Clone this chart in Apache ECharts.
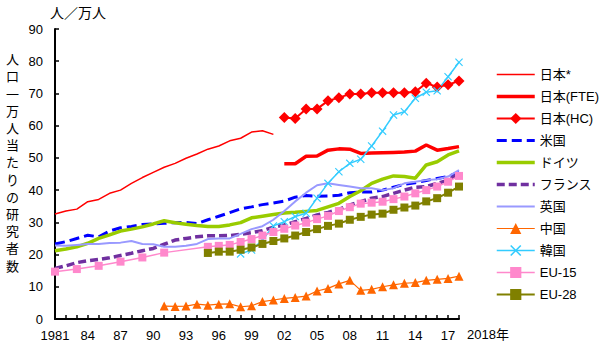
<!DOCTYPE html>
<html>
<head>
<meta charset="utf-8">
<script src="https://cdn.jsdelivr.net/npm/echarts@6/dist/echarts.min.js"></script>
<style>
html,body{margin:0;padding:0;background:#fff;}
#chart{width:600px;height:349px;}
</style>
</head>
<body>
<div id="chart"></div>
<script>
const years = [1981,1982,1983,1984,1985,1986,1987,1988,1989,1990,
  1991,1992,1993,1994,1995,1996,1997,1998,1999,2000,
  2001,2002,2003,2004,2005,2006,2007,2008,2009,2010,
  2011,2012,2013,2014,2015,2016,2017,2018];

const yTicks = [0,10,20,30,40,50,60,70,80,90];

// values per year 1981..2018 (null = no data)
const japanStar = [32.6,33.5,34.1,36.4,37.1,39.0,40.0,42.1,43.9,45.5,
  47.1,48.3,49.9,51.2,52.7,53.7,55.3,56.1,58.0,58.4,
  57.3,null,null,null,null,null,null,null,null,null,
  null,null,null,null,null,null,null,null];
const japanFTE = [null,null,null,null,null,null,null,null,null,null,
  null,null,null,null,null,null,null,null,null,null,
  null,48.2,48.2,50.5,50.6,52.4,52.8,52.7,51.4,51.5,
  51.6,51.7,51.8,52.1,54.0,52.4,52.9,53.5];
const japanHC = [null,null,null,null,null,null,null,null,null,null,
  null,null,null,null,null,null,null,null,null,null,
  null,62.5,62.2,65.2,65.2,67.7,68.7,69.8,69.8,70.2,
  70.2,70.2,70.2,70.5,73.2,72.0,72.7,73.9];
const usa = [23.3,24.0,25.0,26.0,25.5,27.3,28.3,28.7,29.3,29.5,
  29.7,29.9,30.0,29.6,30.8,31.9,33.0,34.2,34.8,35.5,
  36.0,36.6,37.8,38.3,38.1,38.2,38.4,39.2,39.4,39.4,
  40.0,40.9,41.8,42.3,43.0,43.6,44.2,45.6];
const germany = [21.2,21.7,22.4,23.5,25.0,26.1,27.3,27.9,28.6,29.5,
  30.5,29.9,29.4,29.0,28.7,28.7,29.2,29.9,31.4,31.9,
  32.4,32.9,33.1,33.4,33.7,34.8,35.9,38.0,39.8,42.1,
  43.4,44.4,44.2,43.7,47.8,48.8,50.9,52.2];
const france = [15.7,16.5,17.5,18.1,18.5,19.0,19.7,20.4,21.2,21.9,
  23.2,24.5,25.0,25.5,25.8,25.8,25.9,26.3,26.8,27.4,
  28.5,29.2,30.2,31.2,32.3,33.1,34.0,35.4,36.4,37.5,
  38.0,39.0,40.0,40.9,41.1,42.1,43.1,45.2];
const uk = [22.8,22.7,23.0,23.3,23.3,23.6,23.7,24.2,23.3,23.2,
  22.4,22.4,22.7,23.3,24.8,25.0,25.0,26.4,27.9,28.8,
  30.8,33.5,36.5,39.2,41.5,42.1,41.6,41.1,40.6,40.6,
  40.0,40.6,42.1,42.6,43.1,43.4,44.2,46.2];
const china = [null,null,null,null,null,null,null,null,null,null,
  4.0,3.9,4.0,4.6,4.3,4.6,4.7,3.8,4.1,5.4,
  5.9,6.4,6.7,7.1,8.7,9.5,10.9,12.0,8.9,9.2,
  10.0,10.6,11.1,11.3,12.0,12.3,12.6,13.3];
const korea = [null,null,null,null,null,null,null,null,null,null,
  null,null,null,null,null,null,null,20.2,21.4,24.5,
  28.9,30.2,31.8,32.8,37.5,42.1,45.7,48.3,49.6,53.7,
  58.3,63.3,64.3,68.5,70.4,70.8,75.2,79.7];
const eu15 = [14.7,null,15.5,null,16.5,null,17.8,null,19.1,null,
  20.6,null,null,null,22.4,22.7,23.0,23.9,24.8,25.9,
  27.0,28.0,29.0,29.9,31.0,32.0,33.5,34.7,35.8,36.1,
  36.4,37.2,38.0,39.0,40.0,41.1,42.6,44.4];
const eu28 = [null,null,null,null,null,null,null,null,null,null,
  null,null,null,null,20.5,20.9,20.9,21.5,22.2,23.3,
  24.2,25.0,25.9,27.0,27.9,28.9,29.6,30.8,31.7,32.4,
  32.7,33.9,34.6,35.2,36.5,37.5,39.2,41.1];

const FONT = "'Liberation Sans', 'Noto Sans CJK JP', sans-serif";
const crossPath = 'path://M0,1L1,0L5,4L9,0L10,1L6,5L10,9L9,10L5,6L1,10L0,9L4,5Z';

function line(name, data, color, width, type, symbol, symbolSize) {
  return {
    name: name, type: 'line', data: data,
    connectNulls: true,
    symbol: symbol || 'none',
    symbolSize: symbolSize || 0,
    showSymbol: !!symbol,
    showAllSymbol: true,
    lineStyle: { color: color, width: width, type: type || 'solid' },
    itemStyle: { color: color },
    emphasis: { disabled: true },
    animation: false
  };
}

const noMark = { itemStyle: { opacity: 0 } };
const chart = echarts.init(document.getElementById('chart'), null, { renderer: 'svg' });
chart.setOption({
  animation: false,
  backgroundColor: '#fff',
  textStyle: { fontFamily: FONT, color: '#000' },
  grid: { left: 55, right: 141, top: 29, bottom: 30, containLabel: false },
  legend: {
    orient: 'vertical', left: 490, top: 63,
    itemWidth: 38, itemHeight: 14, itemGap: 9,
    lineStyle: { width: 'inherit', type: 'inherit' },
    textStyle: { fontSize: 13, color: '#000', fontFamily: FONT },
    data: [
      Object.assign({ name: '日本*' }, noMark),
      Object.assign({ name: '日本(FTE)' }, noMark),
      { name: '日本(HC)' },
      Object.assign({ name: '米国' }, noMark),
      Object.assign({ name: 'ドイツ' }, noMark),
      Object.assign({ name: 'フランス' }, noMark),
      Object.assign({ name: '英国' }, noMark),
      { name: '中国' },
      { name: '韓国' },
      { name: 'EU-15' },
      { name: 'EU-28' }
    ]
  },
  xAxis: {
    type: 'category', data: years, boundaryGap: false,
    axisLine: { lineStyle: { color: '#000', width: 2 } },
    axisTick: { inside: true, length: 4, interval: 0, lineStyle: { color: '#000', width: 1.5 } },
    axisLabel: {
      interval: 2, margin: 10, fontSize: 13, color: '#000', fontFamily: FONT,
      formatter: function (v) { return String(v) === '1981' ? '1981' : String(v).slice(2); }
    },
    name: '2018年', nameLocation: 'end', nameGap: 8,
    nameTextStyle: { fontSize: 13, color: '#000', fontFamily: FONT, verticalAlign: 'top', padding: [9, 0, 0, 0] },
    splitLine: { show: false }
  },
  yAxis: {
    type: 'value', min: yTicks[0], max: yTicks[yTicks.length - 1], interval: 10,
    axisLine: { show: true, lineStyle: { color: '#000', width: 2 } },
    axisTick: { show: true, inside: true, length: 4, lineStyle: { color: '#000', width: 1.5 } },
    axisLabel: { margin: 12, fontSize: 13, color: '#000', fontFamily: FONT },
    splitLine: { show: false },
    name: '人／万人', nameLocation: 'end', nameGap: 9,
    nameTextStyle: { fontSize: 14, color: '#000', fontFamily: FONT, align: 'left', padding: [0, 0, 0, -5] }
  },
  graphic: [{
    type: 'text', left: 6, top: 50,
    style: {
      text: '人\n口\n一\n万\n人\n当\nた\nり\nの\n研\n究\n者\n数',
      font: "13px 'Noto Sans CJK JP', sans-serif",
      lineHeight: 17.2, fill: '#000', align: 'left'
    }
  }],
  series: [
    line('日本*', japanStar, '#ff0000', 1.5),
    line('日本(FTE)', japanFTE, '#ff0000', 3.5),
    line('日本(HC)', japanHC, '#ff0000', 2, 'solid', 'diamond', 11),
    line('米国', usa, '#0000ff', 3, [10, 5]),
    line('ドイツ', germany, '#99cc00', 3.5),
    line('フランス', france, '#7030a0', 3.5, [8, 4]),
    line('英国', uk, '#9999ff', 2),
    line('中国', china, '#ff6600', 1.2, 'solid', 'triangle', 9),
    line('韓国', korea, '#33ccff', 1.5, 'solid', crossPath, 8),
    line('EU-15', eu15, '#ff88cc', 1.5, 'solid', 'rect', 8),
    line('EU-28', eu28, '#808000', 2, 'solid', 'rect', 8)
  ]
});
</script>
</body>
</html>
